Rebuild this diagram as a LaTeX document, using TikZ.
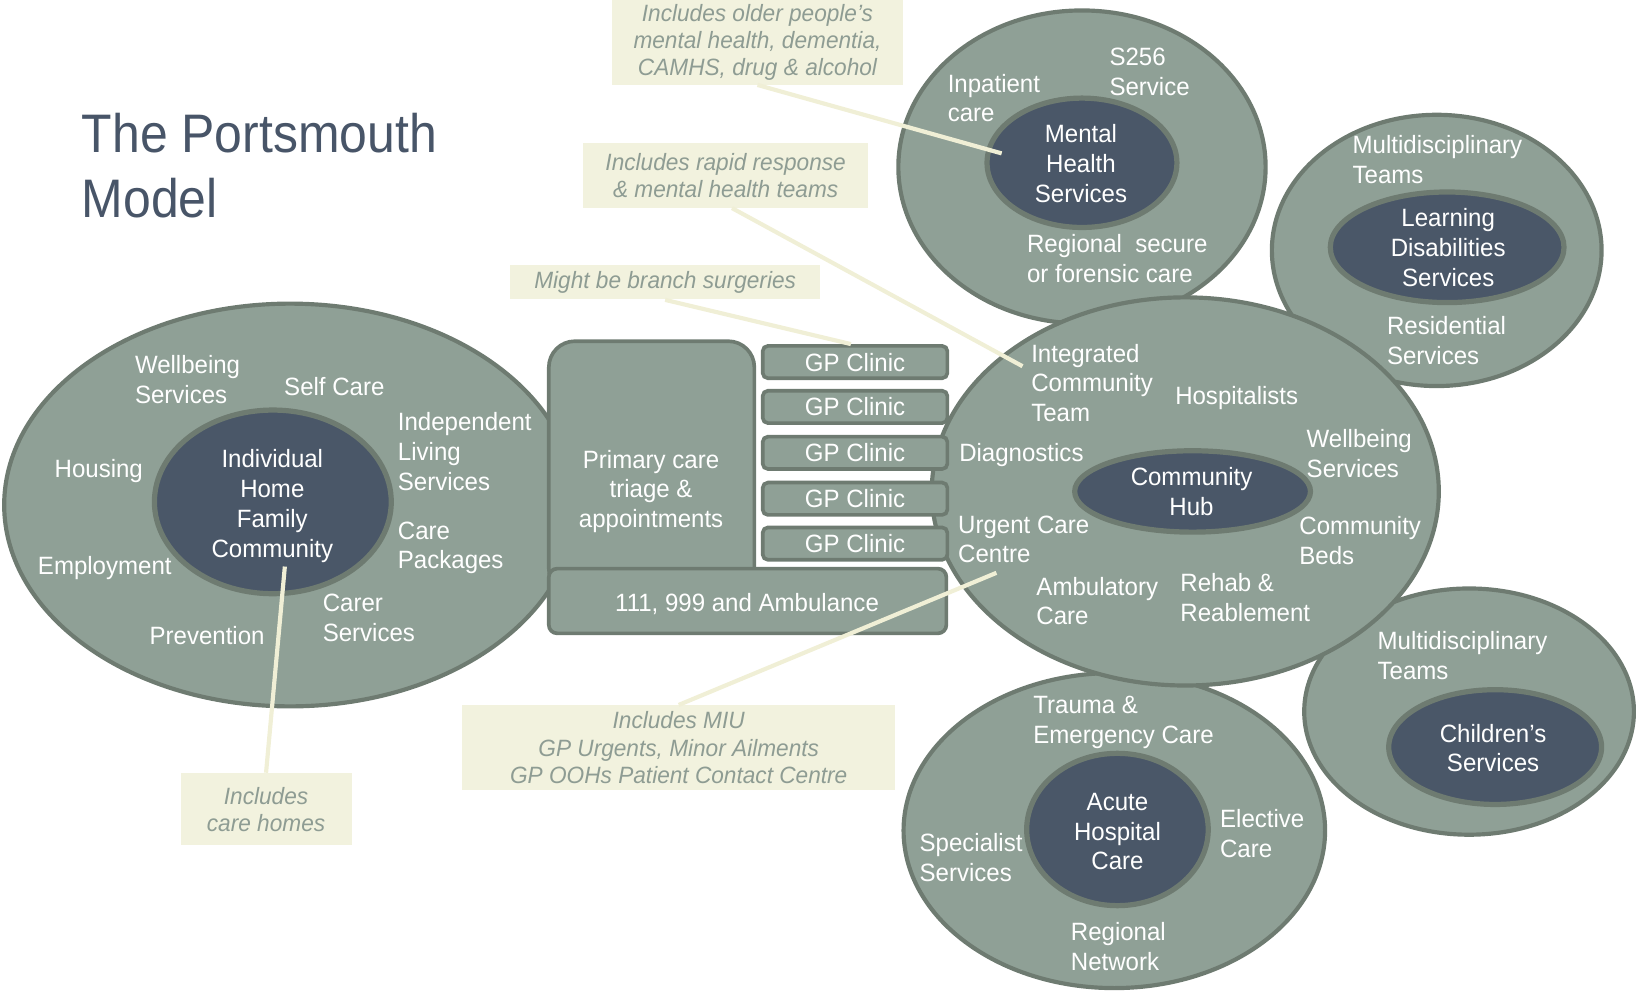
\documentclass[tikz,border=0pt]{standalone}
\usepackage{fontspec}
\setmainfont{Liberation Sans}[FakeStretch=0.96]
\newfontfamily\titlefont{Liberation Sans}[FakeStretch=0.92]
\usetikzlibrary{shapes.geometric}
\definecolor{outc}{HTML}{8FA096}
\definecolor{bordc}{HTML}{6E7B71}
\definecolor{innc}{HTML}{4A5768}
\definecolor{notec}{HTML}{F2F2DE}
\definecolor{notetext}{HTML}{8E9C93}
\definecolor{linkc}{HTML}{F0EFD6}
\definecolor{titlec}{HTML}{485568}
\newcommand\bodyf{\fontsize{12}{14.3}\selectfont}
\newcommand\notef{\fontsize{11.3}{13}\selectfont\itshape}
\begin{document}
\begin{tikzpicture}[x=0.5pt,y=-0.5pt,
  ringout/.style={ellipse, draw=bordc, line width=2pt, fill=outc, inner sep=0pt},
  ringin/.style={ellipse, draw=bordc, line width=2.5pt, fill=innc, inner sep=0pt},
  lbl/.style={text=white, font=\bodyf, align=left, anchor=west, inner sep=0pt},
  ctr/.style={text=white, font=\bodyf, align=center, inner sep=0pt},
  note/.style={fill=notec, text=notetext, font=\notef, align=center, inner sep=0pt},
  link/.style={draw=linkc, line width=2pt},
  boxs/.style={draw=bordc, line width=1.75pt, fill=outc},
  gp/.style={boxs, rounded corners=2.5pt, minimum width=88.5pt, minimum height=15.5pt, inner sep=0pt, text=white, font=\bodyf}
]
\useasboundingbox (0,0) rectangle (1568,950);

% title
\node[anchor=base west, inner sep=0pt, text=titlec, font=\titlefont\fontsize{26}{31}\selectfont] (t1) at (78,146) {The Portsmouth};
\node[anchor=base west, inner sep=0pt, text=titlec, font=\titlefont\fontsize{26}{31}\selectfont] (t2) at (78,208) {Model};

% left ellipse
\node[ringout, minimum width=274pt, minimum height=193pt] (L) at (278,484) {};
\node[ringin, minimum width=113.5pt, minimum height=88pt] (Li) at (261.5,481) {};

% primary care block
\node[boxs, rounded corners=12.5pt, minimum width=98.5pt, minimum height=121.5pt, inner sep=0pt] (PC) at (624.5,448.5) {};
\node[ctr] (PCt) at (624,471) {Primary care\\triage \&\\appointments};
\node[boxs, rounded corners=4pt, minimum width=190.5pt, minimum height=31pt, inner sep=0pt] (AMB) at (716.5,576) {};
\node[ctr] (AMBt) at (716,579) {111, 999 and Ambulance};

% left ellipse texts
\node[ctr] (Lt) at (261,485) {Individual\\Home\\Family\\Community};
\node[lbl] (l1) at (129,364) {Wellbeing\\Services};
\node[lbl] (l2) at (272,370) {Self Care};
\node[lbl] (l3) at (381,433) {Independent\\Living\\Services};
\node[lbl] (l4) at (52,451) {Housing};
\node[lbl] (l5) at (381,525) {Care\\Packages};
\node[lbl] (l6) at (36,544) {Employment};
\node[lbl] (l7) at (309,592) {Carer\\Services};
\node[lbl] (l8) at (143,609) {Prevention};

% mental health
\node[ringout, minimum width=176pt, minimum height=150pt] (MH) at (1037,160) {};
\node[ringin, minimum width=91pt, minimum height=62pt] (MHi) at (1037,156) {};
\node[ctr] (MHt) at (1036,157) {Mental\\Health\\Services};
\node[lbl] (m1) at (908,94) {Inpatient\\care};
\node[lbl] (m2) at (1063,69) {S256\\Service};
\node[lbl] (m3) at (984,248) {Regional\ \ secure\\or forensic care};

% learning disabilities
\node[ringout, minimum width=158pt, minimum height=130pt] (LD) at (1377,240) {};
\node[ringin, minimum width=112pt, minimum height=53pt] (LDi) at (1387,237) {};
\node[ctr] (LDt) at (1388,237) {Learning\\Disabilities\\Services};
\node[lbl] (d1) at (1296,153) {Multidisciplinary\\Teams};
\node[lbl] (d2) at (1329,326) {Residential\\Services};

% children's
\node[ringout, minimum width=158pt, minimum height=118pt] (CH) at (1408,682) {};
\node[ringin, minimum width=102pt, minimum height=55pt] (CHi) at (1433,716) {};
\node[ctr] (CHt) at (1431,717) {Children’s\\Services};
\node[lbl] (c1) at (1320,628) {Multidisciplinary\\Teams};

% acute
\node[ringout, minimum width=202pt, minimum height=151pt] (AC) at (1068,796) {};
\node[ringin, minimum width=87pt, minimum height=73pt] (ACi) at (1071,795) {};
\node[ctr] (ACt) at (1071,797) {Acute\\Hospital\\Care};
\node[lbl] (a1) at (990,692) {Trauma \&\\Emergency Care};
\node[lbl] (a2) at (881,822) {Specialist\\Services};
\node[lbl] (a3) at (1169,799) {Elective\\Care};
\node[lbl] (a4) at (1026,907) {Regional\\Network};

% community
\node[ringout, minimum width=243pt, minimum height=186pt] (CO) at (1136,471) {};
\node[ringin, minimum width=113pt, minimum height=39pt] (COi) at (1143,471) {};
\node[ctr] (COt) at (1142,471) {Community\\Hub};
\node[lbl] (h1) at (988,367) {Integrated\\Community\\Team};
\node[lbl] (h2) at (1126,381) {Hospitalists};
\node[lbl] (h3) at (1252,435) {Wellbeing\\Services};
\node[lbl] (h4) at (919,436) {Diagnostics};
\node[lbl] (h5) at (918,517) {Urgent Care\\Centre};
\node[lbl] (h6) at (1245,518) {Community\\Beds};
\node[lbl] (h7) at (993,576) {Ambulatory\\Care};
\node[lbl] (h8) at (1131,573) {Rehab \&\\Reablement};

% GP clinics
\node[gp] (GP1) at (819.5,347) {GP Clinic};
\node[gp] (GP2) at (819.5,390) {GP Clinic};
\node[gp] (GP3) at (819.5,434) {GP Clinic};
\node[gp] (GP4) at (819.5,478) {GP Clinic};
\node[gp] (GP5) at (819.5,521) {GP Clinic};

% callouts
\node[note, minimum width=139pt, minimum height=40.5pt] (NA) at (726,40.5) {Includes older people’s\\mental health, dementia,\\CAMHS, drug \& alcohol};
\node[note, minimum width=136.5pt, minimum height=31pt] (NB) at (695.5,168) {Includes rapid response\\\& mental health teams};
\node[note, minimum width=148.5pt, minimum height=16.5pt] (NC) at (637.5,270.5) {Might be branch surgeries};
\node[note, minimum width=207.5pt, minimum height=40.5pt] (ND) at (650.5,716.5) {Includes MIU\\GP Urgents, Minor Ailments\\GP OOHs Patient Contact Centre};
\node[note, minimum width=82pt, minimum height=34.5pt] (NE) at (255,775.5) {Includes\\care homes};

\coordinate (eA) at (960,147);
\coordinate (eB) at (980,351);
\coordinate (eD) at (955,549);
\coordinate (eE) at (273,543);
\draw[link] (NA.south) -- (eA);
\draw[link] ([xshift=3pt]NB.south) -- (eB);
\draw[link] (NC.south) -- ([xshift=-2pt]GP1.north);
\draw[link] (ND.north) -- (eD);
\draw[link] (NE.north) -- (eE);
\end{tikzpicture}
\end{document}
